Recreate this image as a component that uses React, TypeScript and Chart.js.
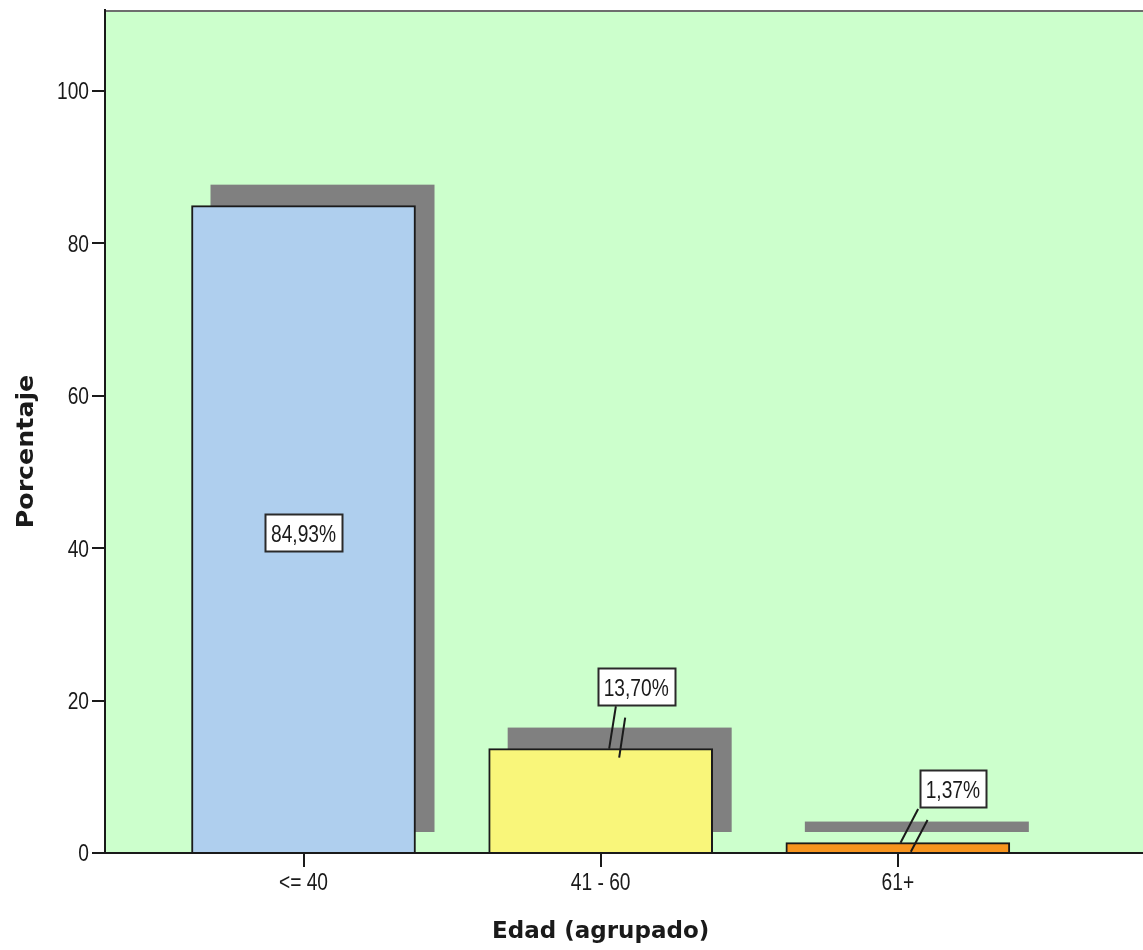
import { useEffect, useRef } from 'react';
import { Chart, registerables } from 'chart.js';

Chart.register(...registerables);

// Age groups and the share of respondents in each one
const CATEGORIES = ['<= 40', '41 - 60', '61+'];
const PERCENTAGES = [84.93, 13.7, 1.37];
const Y_TICKS = [0, 20, 40, 60, 80, 100];
const Y_MAX = 110.6;
const X_TITLE = 'Edad (agrupado)';
const Y_TITLE = 'Porcentaje';

// Styling
const BAR_COLORS = ['#AFCFEE', '#F9F67A', '#F7941E'];
const PLOT_BG = '#CCFFCC';
const SHADOW_COLOR = '#808080';
const INK = '#1a1a1a';
const SHADOW_DX = 19;
const SHADOW_DY = -21;
const SHADOW_LIFT = 20;

// Small text is a narrow sans: a regular sans squeezed horizontally
const SMALL_FONT = '23.4px "Liberation Sans", Arial, sans-serif';
const SQUEEZE = 0.82;
const DIGIT_HALF = 8.4;

// Label boxes: offset of the box centre from the top-centre of its bar,
// plus the two short connector strokes (x1, y1, x2, y2 relative to the same point)
type Placement = { inside: boolean; dx: number; dy: number; strokes: number[][] };
const LABEL_PLACEMENT: Placement[] = [
  { inside: true, dx: 0, dy: 3, strokes: [] },
  { inside: false, dx: 35.5, dy: -62, strokes: [[15.2, -42.3, 8.5, 0], [24.5, -31, 18.5, 9]] },
  { inside: false, dx: 55, dy: -54, strokes: [[20.3, -33.5, 2.7, 0.2], [29.7, -22.5, 13, 9.2]] },
];

const fmt = (v: number) => v.toFixed(2).replace('.', ',') + '%';

function narrowText(ctx: CanvasRenderingContext2D, text: string, x: number, y: number, align: CanvasTextAlign) {
  ctx.save();
  ctx.translate(x, y);
  ctx.scale(SQUEEZE, 1);
  ctx.font = SMALL_FONT;
  ctx.textAlign = align;
  ctx.textBaseline = 'alphabetic';
  ctx.fillText(text, 0, 0);
  ctx.restore();
}

export default function App() {
  const canvasRef = useRef<HTMLCanvasElement | null>(null);

  useEffect(() => {
    const canvas = canvasRef.current;
    if (!canvas) return;

    const decorPlugin = {
      id: 'decor',
      beforeDraw(chart: any) {
        const { ctx, chartArea } = chart;
        ctx.save();
        ctx.fillStyle = PLOT_BG;
        ctx.fillRect(chartArea.left, chartArea.top, chartArea.right - chartArea.left, chartArea.bottom - chartArea.top);
        ctx.strokeStyle = '#6e6e6e';
        ctx.lineWidth = 2;
        ctx.beginPath();
        ctx.moveTo(chartArea.left, chartArea.top + 1);
        ctx.lineTo(chartArea.right, chartArea.top + 1);
        ctx.stroke();
        ctx.restore();
      },
      beforeDatasetsDraw(chart: any) {
        const { ctx } = chart;
        const meta = chart.getDatasetMeta(0);
        ctx.save();
        ctx.fillStyle = SHADOW_COLOR;
        meta.data.forEach((el: any) => {
          const w = el.width;
          const left = el.x - w / 2 + SHADOW_DX;
          const top = el.y + SHADOW_DY;
          const bottom = el.base - SHADOW_LIFT;
          ctx.fillRect(left, top, w, bottom - top);
        });
        ctx.restore();
      },
      afterDatasetsDraw(chart: any) {
        const { ctx } = chart;
        const yScale = chart.scales.y;
        const meta = chart.getDatasetMeta(0);
        ctx.save();
        meta.data.forEach((el: any, i: number) => {
          const p = LABEL_PLACEMENT[i];
          const value = PERCENTAGES[i];
          const ax = el.x;
          const ay = el.y;
          ctx.strokeStyle = INK;
          ctx.lineWidth = 2;
          p.strokes.forEach((s) => {
            ctx.beginPath();
            ctx.moveTo(ax + s[0], ay + s[1]);
            ctx.lineTo(ax + s[2], ay + s[3]);
            ctx.stroke();
          });
          const cx = ax + p.dx;
          const cy = p.inside ? yScale.getPixelForValue(value / 2) + p.dy : ay + p.dy;
          const text = fmt(value);
          ctx.font = SMALL_FONT;
          const tw = ctx.measureText(text).width * SQUEEZE;
          const bw = Math.round(tw + 12);
          const bh = 37;
          const bx = Math.round(cx - bw / 2) + 0.5;
          const by = Math.round(cy - bh / 2) + 0.5;
          ctx.fillStyle = '#ffffff';
          ctx.fillRect(bx, by, bw, bh);
          ctx.strokeStyle = '#2a2a2a';
          ctx.lineWidth = 2;
          ctx.strokeRect(bx, by, bw, bh);
          ctx.fillStyle = INK;
          narrowText(ctx, text, cx, cy + 1 + DIGIT_HALF, 'center');
        });
        ctx.restore();
      },
      afterDraw(chart: any) {
        const { ctx } = chart;
        const xScale = chart.scales.x;
        const yScale = chart.scales.y;
        ctx.save();
        ctx.fillStyle = INK;
        // tick labels
        Y_TICKS.forEach((v) => {
          narrowText(ctx, String(v), yScale.left + yScale.width - 16, yScale.getPixelForValue(v) + DIGIT_HALF, 'right');
        });
        CATEGORIES.forEach((c, i) => {
          narrowText(ctx, c, xScale.getPixelForValue(i), 890, 'center');
        });
        // axis titles
        ctx.textAlign = 'center';
        ctx.textBaseline = 'alphabetic';
        ctx.font = 'bold 23px "DejaVu Sans", Verdana, sans-serif';
        ctx.fillText(X_TITLE, xScale.getPixelForValue(1), 938);
        ctx.font = 'bold 23px "DejaVu Sans", Verdana, sans-serif';
        ctx.translate(33, 451.5);
        ctx.rotate(-Math.PI / 2);
        ctx.scale(1.1, 1);
        ctx.fillText(Y_TITLE, 0, 0);
        ctx.restore();
      },
    };

    const chart = new Chart(canvas, {
      type: 'bar',
      data: {
        datasets: [
          {
            data: PERCENTAGES.map((v, i) => ({ x: i, y: v })),
            backgroundColor: BAR_COLORS,
            borderColor: INK,
            borderWidth: 2,
            barThickness: 224,
          },
        ],
      },
      options: {
        animation: false,
        responsive: false,
        devicePixelRatio: 1,
        layout: { padding: { top: 10, left: 0, right: 0, bottom: 0 } },
        plugins: {
          legend: { display: false },
          tooltip: { enabled: false },
        },
        scales: {
          x: {
            type: 'linear',
            min: -0.668,
            max: 2.825,
            offset: false,
            grid: {
              display: true,
              offset: false,
              drawOnChartArea: false,
              drawTicks: true,
              tickLength: 14,
              color: INK,
              lineWidth: 2,
            },
            border: { display: true, color: INK, width: 2 },
            ticks: {
              padding: 1,
              color: 'rgba(0,0,0,0)',
              font: { size: 20 },
              callback: (v: any) => CATEGORIES[v as number] ?? '',
            },
            afterBuildTicks: (scale: any) => {
              scale.ticks = CATEGORIES.map((_, i) => ({ value: i }));
            },
            afterFit: (scale: any) => {
              scale.height = 97;
              scale.paddingLeft = 0;
              scale.paddingRight = 0;
            },
          },
          y: {
            type: 'linear',
            min: 0,
            max: Y_MAX,
            grid: {
              display: true,
              drawOnChartArea: false,
              drawTicks: true,
              tickLength: 13,
              color: INK,
              lineWidth: 2,
            },
            border: { display: true, color: INK, width: 2 },
            ticks: {
              padding: 3,
              color: 'rgba(0,0,0,0)',
              font: { size: 20 },
            },
            afterBuildTicks: (scale: any) => {
              scale.ticks = Y_TICKS.map((v) => ({ value: v }));
            },
            afterFit: (scale: any) => {
              scale.width = 105;
              scale.paddingTop = 0;
              scale.paddingBottom = 0;
            },
          },
        },
      },
      plugins: [decorPlugin],
    } as any);

    return () => chart.destroy();
  }, []);

  return (
    <div style={{ position: 'fixed', left: 0, top: 0, width: 1143, height: 950, background: '#ffffff' }}>
      <canvas ref={canvasRef} width={1143} height={950} style={{ display: 'block' }} />
    </div>
  );
}
